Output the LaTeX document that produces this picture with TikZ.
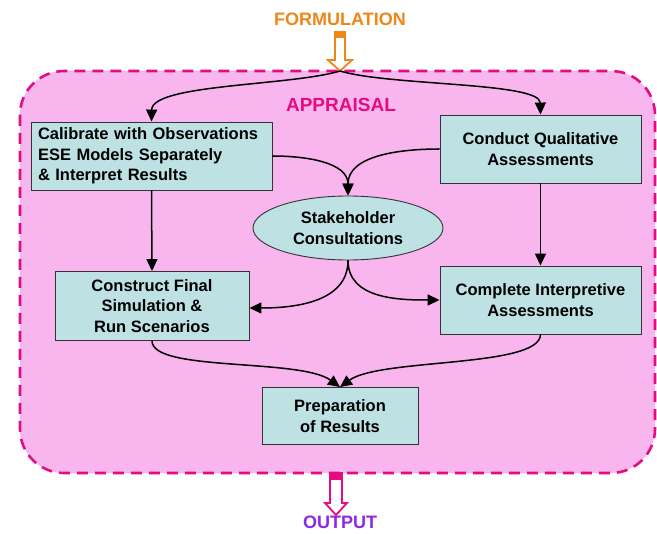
\documentclass[tikz,border=0pt]{standalone}
\usepackage{fontspec}
\setmainfont{Liberation Sans}
\usepackage{xcolor}
\usepackage{tikz}
\usetikzlibrary{shapes.geometric, arrows.meta}
\definecolor{appraisalfill}{RGB}{249,182,238}
\definecolor{appraisalline}{RGB}{228,12,128}
\definecolor{boxfill}{RGB}{190,226,228}
\definecolor{formorange}{RGB}{240,134,24}
\definecolor{outpurple}{RGB}{140,40,230}
\tikzset{stagebox/.style={draw=black!80, fill=boxfill, line width=0.9pt,
        font=\fontsize{16.5}{20.5}\selectfont\bfseries, align=center, inner sep=0pt},
    flow/.style={draw, line width=1.5pt, -{Triangle[length=12pt,width=11pt]}},
    hollow/.style={line width=1.8pt, fill=white, line join=miter}}

\begin{document}
\begin{tikzpicture}[x=1pt, y=-1pt]
    \useasboundingbox (0,0) rectangle (657,534);
    \draw[appraisalline, fill=appraisalfill, line width=2.6pt,
        dash pattern=on 11pt off 7pt, rounded corners=44pt]
        (20,71) rectangle (655,473);
    \node[font=\fontsize{18}{20}\selectfont\bfseries, text=formorange] (formulation) at (340,19) {FORMULATION};
    \node[font=\fontsize{19}{20}\selectfont\bfseries, text=appraisalline] (appraisal) at (341,105) {APPRAISAL};
    \node[font=\fontsize{18}{20}\selectfont\bfseries, text=outpurple] (output) at (340,522) {OUTPUT};
    % hollow arrows in and out
    \draw[hollow, draw=formorange] (335,32) -- (345,32) -- (345,60) -- (352,60)
        -- (340,71) -- (328,60) -- (335,60) -- cycle;
    \fill[formorange] (335,32) rectangle (345,38);
    \coordinate (fin) at (340,71);
    \draw[hollow, draw=appraisalline] (330,473) -- (342,473) -- (342,503) -- (347,503)
        -- (336,515) -- (325,503) -- (330,503) -- cycle;
    \fill[appraisalline] (330,473) rectangle (342,480);
    % stages
    \node[stagebox, minimum width=241pt, minimum height=68pt, text width=227pt,
        align=left] (calib) at (151.5,156)
        {Calibrate with Observations\\ESE Models Separately\\\& Interpret Results};
    \node[stagebox, minimum width=201pt, minimum height=68pt] (conduct) at (540.5,149)
        {Conduct Qualitative\\Assessments};
    \node[stagebox, ellipse, minimum width=190pt, minimum height=64pt] (stake) at (348,228)
        {Stakeholder\\Consultations};
    \node[stagebox, minimum width=194pt, minimum height=69pt] (construct) at (152,306)
        {Construct Final\\Simulation \&\\Run Scenarios};
    \node[stagebox, minimum width=201pt, minimum height=68pt] (complete) at (540.5,300)
        {Complete Interpretive\\Assessments};
    \node[stagebox, minimum width=156pt, minimum height=57pt] (prep) at (340,416)
        {Preparation\\of Results};
    \draw[flow] (fin) .. controls (290,86) and (152,84) .. (calib.north);
    \draw[flow] (fin) .. controls (390,86) and (540,82) .. (conduct.north);
    \draw[flow] (calib.east) to[out=0, in=90] (stake.north);
    \draw[flow] (conduct.west) to[out=180, in=90] (stake.north);
    \draw[flow] (calib.south) -- (construct.north);
    \draw[flow] (conduct.south) -- (complete.north);
    \draw[flow] (stake.south) to[out=-90, in=0] ([yshift=-2pt]construct.east);
    \draw[flow] (stake.south) to[out=-90, in=180] (complete.west);
    \draw[flow] (construct.south) .. controls (152,372) and (300,358) .. (prep.north);
    \draw[flow] (complete.south) .. controls (540,368) and (380,358) .. (prep.north);
\end{tikzpicture}
\end{document}
